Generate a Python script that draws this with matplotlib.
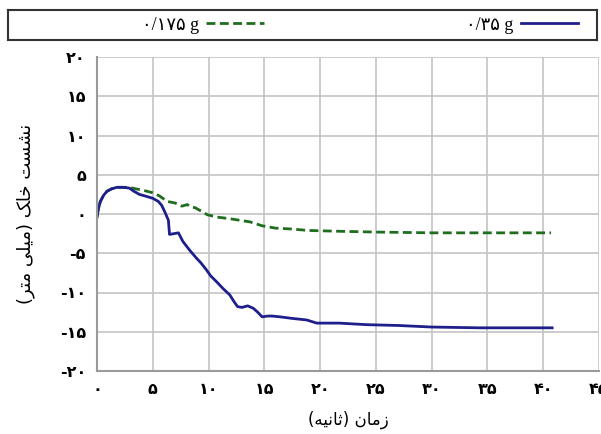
import matplotlib
matplotlib.use("Agg")
import matplotlib.pyplot as plt

# (time in s, settlement in mm)
t_175 = [0, 0.1, 0.3, 0.6, 0.9, 1.3, 1.8, 2.3, 2.9, 3.5, 4.2, 5.0, 5.6, 6.3, 7.0,
         7.6, 8.1, 8.4, 8.8, 9.3, 9.9, 10.8, 11.9, 12.8, 13.7, 14.8, 16.0, 17.3,
         19.0, 21.7, 25.0, 30.0, 35.0, 40.7]
s_175 = [-0.4, 0.5, 1.6, 2.4, 2.9, 3.2, 3.4, 3.4, 3.4, 3.2, 3.0, 2.7, 2.3, 1.6, 1.4,
         1.0, 1.2, 0.9, 0.8, 0.4, -0.1, -0.4, -0.6, -0.8, -1.0, -1.5, -1.8, -1.9,
         -2.1, -2.2, -2.3, -2.4, -2.4, -2.4]

t_35 = [0, 0.1, 0.3, 0.6, 0.9, 1.3, 1.8, 2.3, 2.9, 3.3, 3.8, 4.3, 5.0, 5.5, 5.8,
        6.1, 6.4, 6.5, 6.9, 7.3, 7.7, 8.3, 8.9, 9.3, 9.8, 10.2, 10.7, 11.3, 11.9,
        12.3, 12.6, 13.0, 13.5, 14.0, 14.4, 14.8, 15.3, 15.7, 16.4, 17.5, 18.8,
        19.7, 21.7, 24.2, 27.0, 30.0, 34.3, 38.0, 40.8]
s_35 = [-0.4, 0.5, 1.6, 2.4, 2.9, 3.2, 3.4, 3.4, 3.3, 2.9, 2.5, 2.3, 2.0, 1.6, 1.1,
        0.2, -0.8, -2.6, -2.5, -2.4, -3.5, -4.6, -5.6, -6.2, -7.1, -7.9, -8.6,
        -9.5, -10.3, -11.2, -11.8, -11.9, -11.7, -12.0, -12.5, -13.1, -13.0,
        -13.0, -13.1, -13.3, -13.5, -13.9, -13.9, -14.1, -14.2, -14.4, -14.5,
        -14.5, -14.5]

x_ticks = [0, 5, 10, 15, 20, 25, 30, 35, 40, 45]
y_ticks = [20, 15, 10, 5, 0, -5, -10, -15, -20]

# Persian digits
fa_digits = str.maketrans("0123456789-", "۰۱۲۳۴۵۶۷۸۹-")


def fa(n):
    return str(n).translate(fa_digits)


# labels written in visual order with Arabic presentation forms
# (matplotlib does no Arabic shaping / bidi)
xlabel = "(\uFEEA\uFBFF\uFEE7\uFE8E\uFE9B) \uFEE5\uFE8E\uFEE3\uFEAF"   # زمان (ثانیه)
ylabel = ("(\uFEAE\uFE98\uFEE3 \uFBFD\uFEE0\uFBFF\uFEE3) "
          "\uFB8F\uFE8E\uFEA7 \uFE96\uFEB4\uFEB8\uFEE7")               # نشست خاک (میلی متر)

green = "#1f6e1f"
navy = "#1f1f8c"
grid_col = "#c4c4c4"

fig = plt.figure(figsize=(6.01, 4.34), dpi=100)
ax = fig.add_axes([97 / 601, 63 / 434, 502 / 601, 314 / 434])

ax.plot(t_175, s_175, color=green, lw=2.0, ls=(0, (3.2, 1.6)), label="۰/۱۷۵ g")
ax.plot(t_35, s_35, color=navy, lw=2.0, label="۰/۳۵ g")

ax.set_xlim(0, 45)
ax.set_ylim(-20, 20)
ax.set_xticks(x_ticks)
ax.set_yticks(y_ticks)
ax.set_xticklabels([fa(v) for v in x_ticks], fontsize=11.5, fontweight="bold")
ax.set_yticklabels([fa(v) for v in y_ticks], fontsize=11.5, fontweight="bold")
ax.tick_params(length=0, pad=8)
ax.grid(True, color=grid_col, lw=1.2)
ax.set_axisbelow(True)
for side in ["top", "right"]:
    ax.spines[side].set_visible(False)
for side in ["left", "bottom"]:
    ax.spines[side].set_color("#9a9a9a")
    ax.spines[side].set_linewidth(1.5)

ax.set_xlabel(xlabel, fontsize=12, labelpad=10)
ax.set_ylabel(ylabel, fontsize=13, labelpad=18)

# legend strip at the top
lax = fig.add_axes([8 / 601, 394 / 434, 589 / 601, 30 / 434])
lax.set_xticks([])
lax.set_yticks([])
for sp in lax.spines.values():
    sp.set_linewidth(1.5)
    sp.set_color("#333333")

lines = ax.get_lines()
leg_font = {"family": ["Liberation Serif", "DejaVu Sans"], "size": 13}
leg1 = lax.legend([lines[0]], [lines[0].get_label()], loc="center left",
                  bbox_to_anchor=(0.2, 0.5), frameon=False, markerfirst=False,
                  handlelength=3.2, handletextpad=0.4, prop=leg_font)
lax.add_artist(leg1)
lax.legend([lines[1]], [lines[1].get_label()], loc="center left",
           bbox_to_anchor=(0.75, 0.5), frameon=False, markerfirst=False,
           handlelength=3.2, handletextpad=0.4, prop=leg_font)

fig.savefig("out.png", dpi=100)
